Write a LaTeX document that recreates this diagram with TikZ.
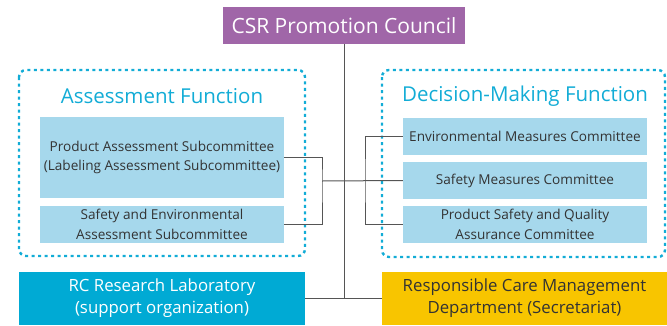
\documentclass[tikz,border=0pt]{standalone}
\usepackage{fontspec}
\setmainfont{Open Sans}
\usetikzlibrary{calc, positioning}

\definecolor{council}{HTML}{A066A8}
\definecolor{funcblue}{HTML}{12ACD6}
\definecolor{subbox}{HTML}{A6D8EC}
\definecolor{labbox}{HTML}{00AAD4}
\definecolor{rcmbox}{HTML}{F8C500}
\definecolor{boxtext}{HTML}{333333}
\definecolor{linegray}{HTML}{555555}

\begin{document}
\begin{tikzpicture}[
   x = 1pt, y = -1pt,
   committee/.style = {fill=subbox, text=boxtext, align=center, inner sep=0pt,
                       minimum width=244pt, font=\fontsize{13.6}{19.5}\selectfont},
   function/.style = {draw=funcblue, line width=2.4pt, dash pattern=on 3pt off 3.5pt,
                      rounded corners=7pt},
   heading/.style = {text=funcblue, font=\fontsize{20.5}{24}\selectfont},
   bottombox/.style = {align=center, inner sep=0pt, minimum height=53pt,
                       font=\fontsize{16.8}{22}\selectfont},
   link/.style = {draw=linegray, line width=1pt}]
   \useasboundingbox (0,0) rectangle (667,325);

   \node[fill=council, text=white, minimum width=242pt, minimum height=37pt,
         font=\fontsize{21}{24}\selectfont] (csr) at (344,25.5) {CSR Promotion Council};

   % the two function groups
   \draw[function] (19,70) rectangle (305,256);
   \draw[function] (382,70) rectangle (665,257);
   \node[heading] (assess) at (162,96) {Assessment Function};
   \node[heading] (decide) at (525,96) {Decision-Making Function};

   \node[committee, minimum height=81pt] (prod) at (162,157.5)
      {Product Assessment Subcommittee\\(Labeling Assessment Subcommittee)};
   \node[committee, minimum height=37pt] (senv) at (162,224.5)
      {Safety and Environmental\\Assessment Subcommittee};

   \node[committee, minimum height=37pt] (env) at (525,136.5) {Environmental Measures Committee};
   \node[committee, minimum height=37pt] (safety) at (525,180.5) {Safety Measures Committee};
   \node[committee, minimum height=37pt] (psq) at (525,224.5)
      {Product Safety and Quality\\Assurance Committee};

   \node[bottombox, fill=labbox, text=white, minimum width=286pt] (lab) at (162,298.5)
      {RC Research Laboratory\\(support organization)};
   \node[bottombox, fill=rcmbox, text=boxtext, minimum width=285pt] (rcm) at (524.5,298.5)
      {Responsible Care Management\\Department (Secretariat)};

   % connectors
   \coordinate (lj) at (322,181);
   \coordinate (rj) at (365,181);
   \draw[link] (prod.east) -| (lj) |- (senv.east);
   \draw[link] (env.west) -| (rj) |- (psq.west);
   \draw[link] (lj) -- (safety.west);
   \draw[link] (csr.south) -- (csr.south |- lab.east);
   \draw[link] (lab.east) -- (rcm.west);
\end{tikzpicture}
\end{document}
